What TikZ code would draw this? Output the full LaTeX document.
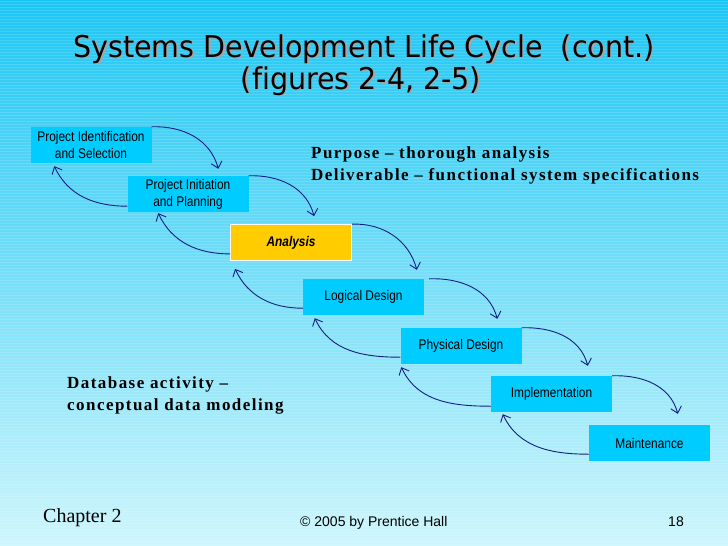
\documentclass[tikz,border=0pt]{standalone}
\usepackage{fontspec}
\setmainfont{Liberation Serif}
\newfontfamily\titlefont[FakeStretch=0.95,Ligatures=NoCommon]{DejaVu Sans}
\newfontfamily\boxfont[FakeStretch=0.85]{Liberation Sans}
\newfontfamily\plainsans{Liberation Sans}
\newfontfamily\spacedserif[LetterSpace=8.5]{Liberation Serif}
\usetikzlibrary{arrows.meta,calc}
\definecolor{bgtop}{RGB}{28,198,244}
\definecolor{bgmid}{RGB}{108,222,250}
\definecolor{bgbot}{RGB}{206,246,252}
\definecolor{boxcyan}{RGB}{0,204,255}
\definecolor{boxyellow}{RGB}{255,204,0}
\definecolor{arrowblue}{RGB}{20,30,130}
\tikzset{
  box/.style={fill=boxcyan, minimum width=121pt, minimum height=36pt, inner sep=0pt,
    align=center, font=\boxfont\fontsize{14}{17}\selectfont},
  fwd/.style={draw=arrowblue, line width=0.9pt, -{Straight Barb[length=6pt,width=11pt]}},
  titletext/.style={font=\titlefont\fontsize{30}{32}\selectfont, inner sep=0pt},
  bodytext/.style={font=\spacedserif\bfseries\fontsize{17}{20}\selectfont, inner sep=0pt, anchor=base west}
}
\begin{document}
\begin{tikzpicture}[x=1pt,y=-1pt]
\useasboundingbox (0,0) rectangle (728,546);
\shade[top color=bgtop, middle color=bgmid, bottom color=bgbot] (0,0) rectangle (728,546);
\foreach \yy in {1,4,...,545} \draw[white, opacity=0.14, line width=1pt] (0,\yy) -- (728,\yy);

% title (with its grey shadow)
\node[titletext, text=black!35, anchor=base] (t1s) at (365.5,58.5) {Systems Development Life Cycle\ \ (cont.)};
\node[titletext, anchor=base] (t1) at (364,57) {Systems Development Life Cycle\ \ (cont.)};
\node[titletext, text=black!35, anchor=base] (t2s) at (362.5,90.5) {(figures 2-4, 2-5)};
\node[titletext, anchor=base] (t2) at (361,89) {(figures 2-4, 2-5)};

% boxes
\node[box] (b1) at (91,145) {Project Identification\\and Selection};
\node[box] (b2) at (188,194) {Project Initiation\\and Planning};
\node[box, fill=boxyellow, draw=white, line width=0.8pt, font=\boxfont\fontsize{14}{17}\selectfont\bfseries\itshape] (an) at (291,242.5) {Analysis};
\node[box] (ld) at (363.5,297) {Logical Design};
\node[box] (ph) at (461,346) {Physical Design};
\node[box] (im) at (551.5,394) {Implementation};
\node[box] (mn) at (649.5,443) {Maintenance};

% forward arrows
\draw[fwd] (b1.north east) to[out=2,in=105] ($(b2.north west)+(91,-7)$);
\draw[fwd] (b2.north east) to[out=2,in=105] ($(an.north west)+(84,-8)$);
\draw[fwd] (an.north east) to[out=2,in=105] ($(ld.north west)+(114,-9)$);
\draw[fwd] ($(ld.north east)+(5,0)$) to[out=2,in=105] ($(ph.north west)+(97,-9)$);
\draw[fwd] (ph.north east) to[out=2,in=105] ($(im.north west)+(97,-10)$);
\draw[fwd] (im.north east) to[out=2,in=105] ($(mn.north west)+(89,-11)$);

% backward arrows
\draw[fwd] ($(b2.south west)+(0,-6)$) to[out=180,in=-65] ($(b1.south west)+(24,3)$);
\draw[fwd] ($(an.south west)+(0,-7)$) to[out=180,in=-65] ($(b2.south west)+(31,1)$);
\draw[fwd] ($(ld.south west)+(0,-7)$) to[out=180,in=-65] ($(an.south west)+(5,8)$);
\draw[fwd] ($(ph.south west)+(0,-7)$) to[out=180,in=-65] ($(ld.south west)+(12,3)$);
\draw[fwd] ($(im.south west)+(0,-6)$) to[out=180,in=-65] ($(ph.south west)+(1,3)$);
\draw[fwd] ($(mn.south west)+(0,-7)$) to[out=180,in=-65] ($(im.south west)+(12,2)$);

% texts
\node[bodytext] (p1) at (311,158) {Purpose – thorough analysis};
\node[bodytext] (p2) at (311,180) {Deliverable – functional system specifications};
\node[bodytext] (d1) at (67,388) {Database activity –};
\node[bodytext] (d2) at (67,410) {conceptual data modeling};

% footer
\node[font=\fontsize{20}{22}\selectfont, inner sep=0pt, anchor=base west] (ch) at (43,522) {Chapter 2};
\node[font=\plainsans\fontsize{14}{16}\selectfont, inner sep=0pt, anchor=base west] (cp) at (300,526) {© 2005 by Prentice Hall};
\node[font=\plainsans\fontsize{14}{16}\selectfont, inner sep=0pt, anchor=base east] (pg) at (684,526) {18};
\end{tikzpicture}
\end{document}
